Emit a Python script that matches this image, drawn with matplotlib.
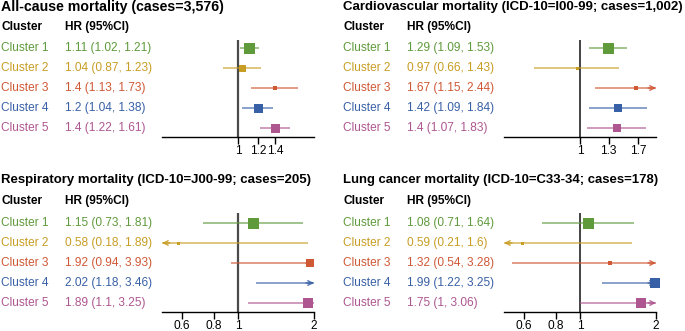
import matplotlib
matplotlib.use("Agg")
import matplotlib.pyplot as plt
from matplotlib.transforms import blended_transform_factory
import numpy as np

plt.rcParams['font.family'] = ['Liberation Sans', 'DejaVu Sans']

clusters = ["Cluster 1", "Cluster 2", "Cluster 3", "Cluster 4", "Cluster 5"]
titles = [
    "All-cause mortality (cases=3,576)",
    "Cardiovascular mortality (ICD-10=I00-99; cases=1,002)",
    "Respiratory mortality (ICD-10=J00-99; cases=205)",
    "Lung cancer mortality (ICD-10=C33-34; cases=178)",
]
hr_allcause = [1.11, 1.04, 1.40, 1.20, 1.40]
lo_allcause = [1.02, 0.87, 1.13, 1.04, 1.22]
hi_allcause = [1.21, 1.23, 1.73, 1.38, 1.61]
lab_allcause = ["1.11 (1.02, 1.21)", "1.04 (0.87, 1.23)", "1.4 (1.13, 1.73)", "1.2 (1.04, 1.38)", "1.4 (1.22, 1.61)"]

hr_cvd = [1.29, 0.97, 1.67, 1.42, 1.40]
lo_cvd = [1.09, 0.66, 1.15, 1.09, 1.07]
hi_cvd = [1.53, 1.43, 2.44, 1.84, 1.83]
lab_cvd = ["1.29 (1.09, 1.53)", "0.97 (0.66, 1.43)", "1.67 (1.15, 2.44)", "1.42 (1.09, 1.84)", "1.4 (1.07, 1.83)"]

hr_resp = [1.15, 0.58, 1.92, 2.02, 1.89]
lo_resp = [0.73, 0.18, 0.94, 1.18, 1.10]
hi_resp = [1.81, 1.89, 3.93, 3.46, 3.25]
lab_resp = ["1.15 (0.73, 1.81)", "0.58 (0.18, 1.89)", "1.92 (0.94, 3.93)", "2.02 (1.18, 3.46)", "1.89 (1.1, 3.25)"]

hr_lung = [1.08, 0.59, 1.32, 1.99, 1.75]
lo_lung = [0.71, 0.21, 0.54, 1.22, 1.00]
hi_lung = [1.64, 1.60, 3.28, 3.25, 3.06]
lab_lung = ["1.08 (0.71, 1.64)", "0.59 (0.21, 1.6)", "1.32 (0.54, 3.28)", "1.99 (1.22, 3.25)", "1.75 (1, 3.06)"]

ticks_allcause = [1, 1.2, 1.4]
ticks_cvd = [1, 1.3, 1.7]
ticks_resp = [0.6, 0.8, 1, 2]
ticks_lung = [0.6, 0.8, 1, 2]

# style
colors = ["#5f9a3b", "#c89d24", "#cf5835", "#3860a6", "#ae5690"]
box_px = [
    [11, 7, 4, 9, 9],
    [11, 3, 4, 8, 8],
    [11, 3, 8, 10, 10],
    [11, 3, 5, 10, 10],
]
title_sizes = [10.2, 9.55, 9.55, 9.45]
XMIN, XMAX = 0.5, 2.0

W, H = 685, 331
fig = plt.figure(figsize=(W / 100, H / 100), dpi=100)

panels = [
    (titles[0], hr_allcause, lo_allcause, hi_allcause, lab_allcause, ticks_allcause),
    (titles[1], hr_cvd, lo_cvd, hi_cvd, lab_cvd, ticks_cvd),
    (titles[2], hr_resp, lo_resp, hi_resp, lab_resp, ticks_resp),
    (titles[3], hr_lung, lo_lung, hi_lung, lab_lung, ticks_lung),
]

# panel geometry in pixels (from top-left)
xoff = [0, 342, 0, 342]
title_y = [7, 7, 180, 180]
head_y = [27, 27, 201, 201]
row0 = [48, 48, 223, 223]
axtop = [40, 40, 213, 213]
axbot = [137, 137, 312, 312]
ref_style = [("#4a4a4a", 1.6), ("#111111", 1.1), ("#4a4a4a", 1.6), ("#111111", 1.1)]

for p, (title, hr, lo, hi, labs, ticks) in enumerate(panels):
    x0 = xoff[p]
    left = (x0 + 162) / W
    width = 152 / W
    bottom = 1 - axbot[p] / H
    height = (axbot[p] - axtop[p]) / H
    ax = fig.add_axes([left, bottom, width, height])
    ax.set_xscale('log')
    ax.set_xlim(XMIN, XMAX)
    step = 20.0
    ytop = (axtop[p] - row0[p]) / step
    ybot = (axbot[p] - row0[p]) / step
    ax.set_ylim(ybot, ytop)
    for s in ['top', 'right', 'left']:
        ax.spines[s].set_visible(False)
    ax.spines['bottom'].set_linewidth(1.0)
    ax.spines['bottom'].set_color('black')
    ax.set_yticks([])
    ax.set_xticks(ticks)
    ax.set_xticklabels([f"{t:g}" for t in ticks])
    ax.xaxis.set_minor_locator(matplotlib.ticker.NullLocator())
    ax.tick_params(axis='x', direction='out', length=5, width=1.0, labelsize=8.6,
                   pad=1.0 if p < 2 else 0.5, colors='black')
    ax.patch.set_alpha(0)

    rc, rw = ref_style[p]
    ax.axvline(1.0, color=rc, lw=rw, zorder=2)

    for i in range(5):
        c = colors[i]
        l = max(lo[i], XMIN)
        h = min(hi[i], XMAX)
        ax.plot([l, h], [i, i], color=c, lw=1.1, alpha=0.75, zorder=3, solid_capstyle='butt')
        if hi[i] > XMAX:
            ax.annotate("", xy=(XMAX, i), xytext=(XMAX * 0.93, i),
                        arrowprops=dict(arrowstyle="->", color=c, lw=1.1, alpha=0.85,
                                        shrinkA=0, shrinkB=0, mutation_scale=8), zorder=3)
        if lo[i] < XMIN:
            ax.annotate("", xy=(XMIN, i), xytext=(XMIN / 0.93, i),
                        arrowprops=dict(arrowstyle="->", color=c, lw=1.1, alpha=0.85,
                                        shrinkA=0, shrinkB=0, mutation_scale=8), zorder=3)
        if XMIN <= hr[i] <= XMAX:
            ax.plot([hr[i]], [i], marker='s', linestyle='none', color=c,
                    markersize=box_px[p][i] * 0.72, markeredgewidth=0, zorder=4, clip_on=False)

    # texts
    tr = blended_transform_factory(fig.transFigure, ax.transData)
    fig.text((x0 + 1) / W, 1 - title_y[p] / H, title, fontsize=title_sizes[p], fontweight='bold',
             ha='left', va='center', color='black')
    fig.text((x0 + 1) / W, 1 - head_y[p] / H, "Cluster", fontsize=8.6, fontweight='bold',
             ha='left', va='center', color='black')
    fig.text((x0 + 65) / W, 1 - head_y[p] / H, "HR (95%CI)", fontsize=8.6, fontweight='bold',
             ha='left', va='center', color='black')
    for i in range(5):
        ax.text((x0 + 1) / W, i, clusters[i], transform=tr, fontsize=8.6, color=colors[i],
                ha='left', va='center')
        ax.text((x0 + 65) / W, i, labs[i], transform=tr, fontsize=8.6, color=colors[i],
                ha='left', va='center')

fig.savefig("out.png", dpi=100)
